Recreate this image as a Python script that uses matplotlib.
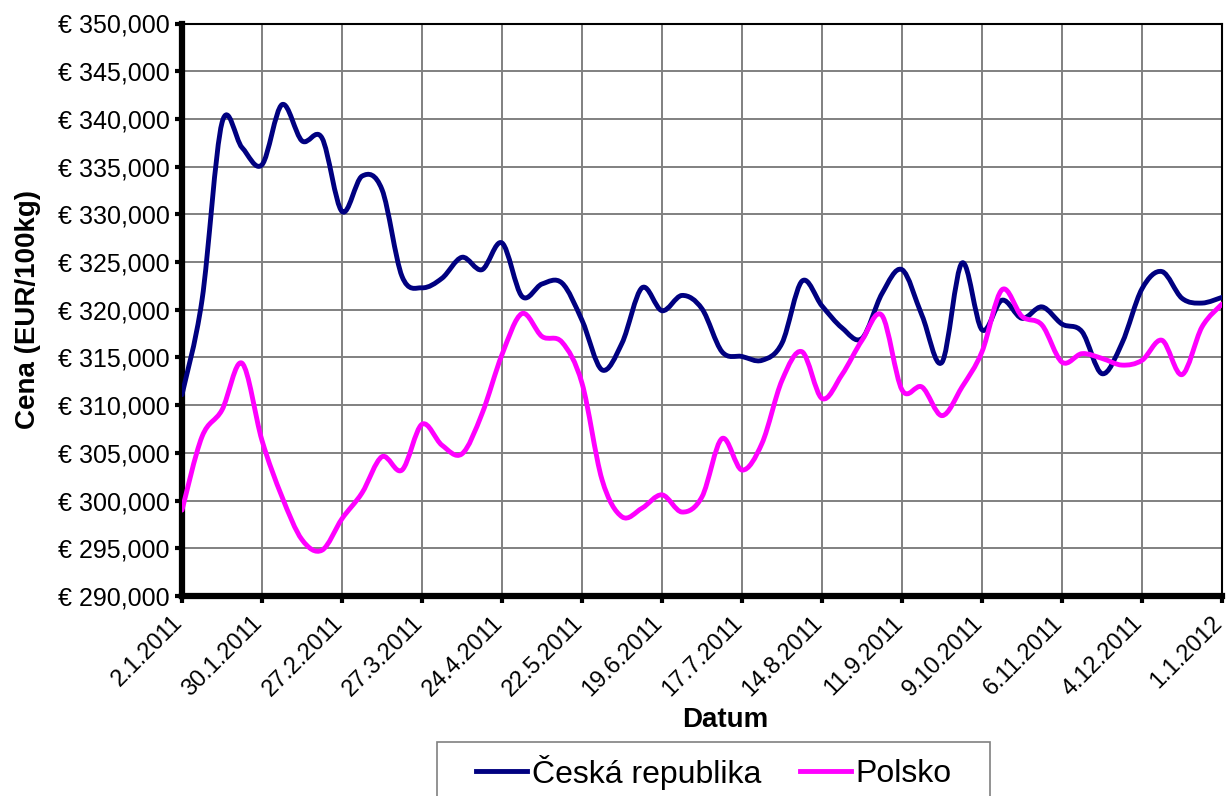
import datetime as dt
import matplotlib
matplotlib.use("Agg")
import matplotlib.pyplot as plt
import matplotlib.dates as mdates
import matplotlib.transforms as mtransforms
from matplotlib.path import Path
from matplotlib.patches import PathPatch, Rectangle
from matplotlib.lines import Line2D
from matplotlib.ticker import FuncFormatter

plt.rcParams['font.family'] = ['Liberation Sans', 'DejaVu Sans']

# weekly prices, EUR/100kg, week starting 2.1.2011
start = dt.date(2011, 1, 2)
weeks = [start + dt.timedelta(days=7 * i) for i in range(53)]

cz = [311.1, 321.0, 339.6, 337.0, 335.2, 341.5, 337.7, 338.0, 330.3, 334.0,
      332.6, 323.5, 322.3, 323.3, 325.5, 324.2, 327.0, 321.4, 322.7, 322.8,
      318.9, 313.7, 316.5, 322.3, 319.9, 321.5, 320.1, 315.6, 315.1, 314.7,
      316.5, 323.0, 320.4, 318.1, 317.0, 321.7, 324.2, 319.4, 314.5, 324.9,
      317.9, 321.0, 319.1, 320.3, 318.5, 317.7, 313.3, 316.5, 322.2, 324.0,
      321.2, 320.7, 321.3]
pl = [299.0, 306.7, 309.5, 314.4, 306.3, 300.4, 295.9, 294.8, 298.1, 300.8,
      304.6, 303.2, 308.0, 305.8, 304.9, 309.1, 315.3, 319.6, 317.2, 316.6,
      312.3, 302.2, 298.3, 299.2, 300.6, 298.8, 300.4, 306.5, 303.2, 306.0,
      312.6, 315.6, 310.7, 313.2, 316.8, 319.4, 311.6, 311.9, 308.9, 311.9,
      315.6, 322.1, 319.3, 318.4, 314.5, 315.4, 314.9, 314.2, 314.7, 316.8,
      313.2, 318.2, 320.6]
series = [("Česká republika", cz, "#000080"), ("Polsko", pl, "#FF00FF")]

yticks = list(range(290000, 350001, 5000))
xticks = [start + dt.timedelta(days=28 * i) for i in range(14)]


def smooth_path(xs, ys):
    # Excel-style smoothed line: cubic Bezier segments through every point
    n = len(xs)
    verts = [(xs[0], ys[0])]
    codes = [Path.MOVETO]
    for i in range(n - 1):
        x0, y0 = xs[max(i - 1, 0)], ys[max(i - 1, 0)]
        x1, y1 = xs[i], ys[i]
        x2, y2 = xs[i + 1], ys[i + 1]
        x3, y3 = xs[min(i + 2, n - 1)], ys[min(i + 2, n - 1)]
        verts += [(x1 + (x2 - x0) / 6, y1 + (y2 - y0) / 6),
                  (x2 - (x3 - x1) / 6, y2 - (y3 - y1) / 6),
                  (x2, y2)]
        codes += [Path.CURVE4] * 3
    return Path(verts, codes)


W, H = 1229, 796
fig = plt.figure(figsize=(W / 100, H / 100), dpi=100)
ax = fig.add_axes([182 / W, 1 - 596 / H, 1040 / W, 572.5 / H])

xnum = mdates.date2num(weeks)
handles = []
for name, vals, col in series:
    yv = [v * 1000 for v in vals]
    ax.add_patch(PathPatch(smooth_path(xnum, yv), facecolor='none',
                           edgecolor=col, lw=3.5, capstyle='round',
                           joinstyle='round', zorder=3))
    handles.append(Line2D([], [], color=col, lw=3.5, label=name))

ax.set_xlim(mdates.date2num(xticks[0]), mdates.date2num(xticks[-1]))
ax.set_ylim(290000, 350000)
ax.set_yticks(yticks)
ax.yaxis.set_major_formatter(FuncFormatter(lambda v, p: "€ {:,.0f}".format(v)))
ax.set_xticks(mdates.date2num(xticks))
ax.set_xticklabels([f"{d.day}.{d.month}.{d.year}" for d in xticks],
                   rotation=45, ha='right', va='center', rotation_mode='anchor')

ax.grid(True, color='#808080', lw=1.4)
ax.set_axisbelow(True)
for s in ['left', 'bottom']:
    ax.spines[s].set_linewidth(4.5)
for s in ['top', 'right']:
    ax.spines[s].set_linewidth(1.5)
ax.tick_params(axis='both', length=5, width=3, pad=4)
ax.tick_params(axis='y', labelsize=18)
ax.tick_params(axis='x', labelsize=17, pad=12)

# nudge date labels left so the last one stays inside the picture
shift = mtransforms.ScaledTranslation(-2 / 72, 0, fig.dpi_scale_trans)
for lab in ax.get_xticklabels():
    lab.set_transform(lab.get_transform() + shift)

ax.set_ylabel("Cena (EUR/100kg)", fontsize=20, fontweight='bold', va='center')
ax.yaxis.set_label_coords((28 - 182) / 1040, 0.5)
ax.set_xlabel("Datum", fontsize=20, fontweight='bold', va='center')
ax.xaxis.set_label_coords((725 - 182) / 1040, (596 - 720) / 572.5)

# legend box runs past the bottom edge, as in the original
fig.add_artist(Rectangle((437 / W, -0.05), (990 - 437) / W, 0.05 + 1 - 742 / H,
                         transform=fig.transFigure, facecolor='white',
                         edgecolor='#808080', lw=1.2))
fig.legend(handles=handles, ncol=2, loc='center left',
           bbox_to_anchor=(476 / W, 1 - 772 / H), fontsize=23,
           frameon=False, handlelength=1.6, handletextpad=0.15,
           columnspacing=1.2, borderpad=0, borderaxespad=0)

fig.savefig("out.png", dpi=100)
